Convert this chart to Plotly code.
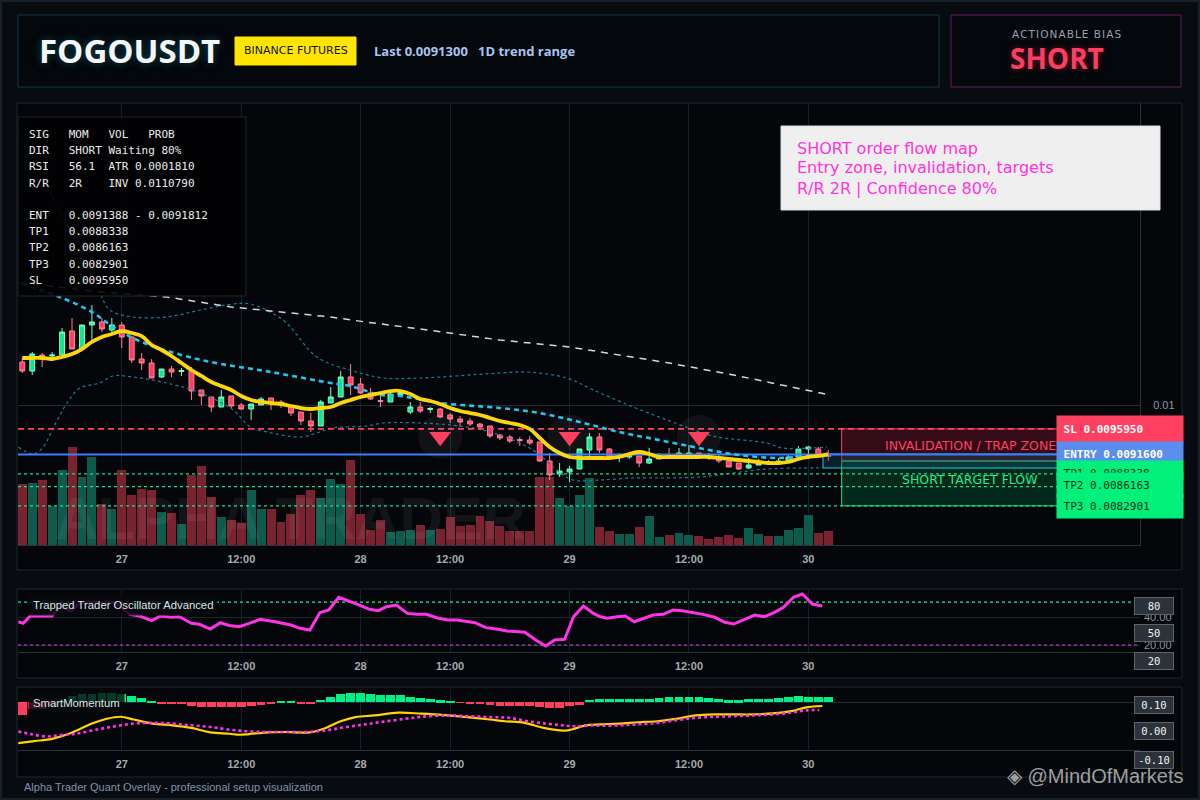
import plotly.graph_objects as go

# ---- candles (1h bars, index 0..81) ----
opens = [0.010729, 0.010576, 0.010847, 0.010831, 0.010847, 0.011254, 0.010949, 0.011356, 0.011407, 0.011271,
         0.011356, 0.011153, 0.010780, 0.010712, 0.010475, 0.010610, 0.010568, 0.010576, 0.010254, 0.010136,
         0.009966, 0.010153, 0.010000, 0.009932, 0.010000, 0.010119, 0.010051, 0.009983, 0.009881, 0.009729,
         0.009644, 0.010034, 0.010136, 0.010475, 0.010356, 0.010203, 0.010076, 0.010051, 0.010169, 0.009881,
         0.009966, 0.009924, 0.009932, 0.009831, 0.009763, 0.009729, 0.009678, 0.009644, 0.009492, 0.009458,
         0.009415, 0.009407, 0.009373, 0.009051, 0.008831, 0.008864, 0.008915, 0.009237, 0.009458, 0.009254,
         0.009110, 0.009119, 0.009136, 0.009017, 0.009085, 0.009153, 0.009136, 0.009136, 0.009186, 0.009127,
         0.009119, 0.009051, 0.009017, 0.008932, 0.008983, 0.009042, 0.009017, 0.009051, 0.009119, 0.009254,
         0.009254, 0.009153]
highs = [0.010797, 0.010898, 0.010881, 0.010898, 0.011305, 0.011475, 0.011356, 0.011695, 0.011475, 0.011475,
         0.011407, 0.011153, 0.010881, 0.010780, 0.010610, 0.010661, 0.010627, 0.010644, 0.010254, 0.010136,
         0.010254, 0.010153, 0.010034, 0.010017, 0.010136, 0.010119, 0.010085, 0.009983, 0.009881, 0.009864,
         0.010085, 0.010305, 0.010576, 0.010695, 0.010458, 0.010288, 0.010169, 0.010203, 0.010220, 0.010051,
         0.010051, 0.009966, 0.009949, 0.009864, 0.009814, 0.009780, 0.009695, 0.009644, 0.009508, 0.009492,
         0.009458, 0.009475, 0.009373, 0.009186, 0.009017, 0.008966, 0.009254, 0.009525, 0.009525, 0.009271,
         0.009186, 0.009186, 0.009136, 0.009271, 0.009186, 0.009271, 0.009271, 0.009322, 0.009186, 0.009186,
         0.009153, 0.009085, 0.009017, 0.009102, 0.009085, 0.009068, 0.009102, 0.009153, 0.009305, 0.009305,
         0.009288, 0.009237]
lows = [0.010542, 0.010508, 0.010644, 0.010763, 0.010847, 0.010949, 0.010949, 0.011102, 0.011237, 0.011237,
        0.010966, 0.010712, 0.010593, 0.010458, 0.010458, 0.010475, 0.010492, 0.010085, 0.010000, 0.009881,
        0.009966, 0.009949, 0.009915, 0.009746, 0.010000, 0.009915, 0.009949, 0.009814, 0.009661, 0.009542,
        0.009644, 0.010034, 0.010136, 0.010169, 0.010186, 0.010085, 0.009966, 0.010051, 0.010136, 0.009847,
        0.009864, 0.009864, 0.009780, 0.009695, 0.009627, 0.009644, 0.009610, 0.009441, 0.009407, 0.009356,
        0.009305, 0.009322, 0.009034, 0.008729, 0.008780, 0.008695, 0.008915, 0.009068, 0.009186, 0.009085,
        0.009034, 0.009085, 0.008949, 0.009000, 0.009085, 0.009102, 0.009119, 0.009136, 0.009085, 0.009068,
        0.009017, 0.008949, 0.008898, 0.008915, 0.008983, 0.009017, 0.009017, 0.009034, 0.009119, 0.009085,
        0.009136, 0.009051]
closes = [0.010576, 0.010864, 0.010831, 0.010847, 0.011237, 0.010949, 0.011356, 0.011407, 0.011288, 0.011356,
          0.011153, 0.010763, 0.010712, 0.010458, 0.010610, 0.010559, 0.010585, 0.010237, 0.010153, 0.009966,
          0.010136, 0.009983, 0.009932, 0.010017, 0.010102, 0.010034, 0.010000, 0.009864, 0.009729, 0.009644,
          0.010051, 0.010136, 0.010475, 0.010339, 0.010203, 0.010102, 0.010059, 0.010186, 0.010203, 0.009966,
          0.009898, 0.009941, 0.009797, 0.009763, 0.009712, 0.009678, 0.009627, 0.009475, 0.009441, 0.009390,
          0.009398, 0.009356, 0.009051, 0.008814, 0.008881, 0.008915, 0.009254, 0.009458, 0.009237, 0.009119,
          0.009127, 0.009153, 0.009017, 0.009085, 0.009153, 0.009119, 0.009186, 0.009186, 0.009119, 0.009110,
          0.009051, 0.008949, 0.008915, 0.008983, 0.009017, 0.009025, 0.009051, 0.009119, 0.009254, 0.009288,
          0.009153, 0.009130]
volume = [61, 62, 65, 39, 75, 98, 68, 88, 41, 36, 75, 50, 56, 55, 33, 32, 21, 70, 79, 48,
          28, 25, 22, 55, 36, 36, 23, 31, 50, 55, 47, 66, 61, 85, 31, 15, 25, 13, 14, 15,
          20, 15, 16, 28, 19, 20, 29, 24, 19, 14, 14, 14, 68, 68, 47, 39, 50, 67, 18, 14,
          11, 11, 18, 29, 8, 10, 12, 10, 9, 6, 8, 10, 7, 17, 11, 9, 9, 15, 17, 30, 12, 14]
fast_ma = [0.010797, 0.010797, 0.010797, 0.010780, 0.010814, 0.010864, 0.010949, 0.011068, 0.011153, 0.011203,
           0.011254, 0.011220, 0.011169, 0.011017, 0.010932, 0.010831, 0.010712, 0.010593, 0.010492, 0.010390,
           0.010322, 0.010254, 0.010153, 0.010085, 0.010051, 0.010034, 0.010017, 0.009983, 0.009949, 0.009932,
           0.009949, 0.009966, 0.010034, 0.010085, 0.010136, 0.010169, 0.010203, 0.010237, 0.010237, 0.010186,
           0.010102, 0.010068, 0.010017, 0.009949, 0.009898, 0.009864, 0.009831, 0.009780, 0.009729, 0.009695,
           0.009661, 0.009593, 0.009441, 0.009288, 0.009186, 0.009119, 0.009102, 0.009102, 0.009102, 0.009102,
           0.009119, 0.009169, 0.009203, 0.009169, 0.009119, 0.009119, 0.009119, 0.009119, 0.009119, 0.009119,
           0.009102, 0.009085, 0.009068, 0.009051, 0.009034, 0.009017, 0.009017, 0.009034, 0.009085, 0.009119,
           0.009136, 0.009169]

mid_x = [0, 4, 7, 9, 12, 18, 25, 31, 33, 36, 38, 42, 48, 52, 56, 60, 64, 68, 72, 76, 80]
mid_y = [0.012051, 0.011814, 0.011576, 0.011339, 0.011068, 0.010763, 0.010559, 0.010373, 0.010322, 0.010169,
         0.010153, 0.010034, 0.009949, 0.009864, 0.009712, 0.009542, 0.009407, 0.009271, 0.009153, 0.009102, 0.009153]
slow_x = [-0.2, 8, 14.5, 21, 31, 34.5, 40, 48, 55, 65, 71.5, 80.7]
slow_y = [0.012068, 0.011915, 0.011831, 0.011661, 0.011492, 0.011407, 0.011288, 0.011102, 0.010983, 0.010712,
          0.010508, 0.010186]
up_x = [-0.4, 2.8, 5.8, 7.8, 8.8, 11.1, 14.5, 17.9, 21.2, 22.9, 26.2, 29.6, 32.9, 36.3, 40, 48, 50.7, 54.7,
        57.4, 61.4, 64.8, 68.1, 69.8, 74.8, 76.4, 80.9]
up_y = [0.014576, 0.013593, 0.012627, 0.011898, 0.011610, 0.011492, 0.011492, 0.011610, 0.011712, 0.011712,
        0.011441, 0.010814, 0.010593, 0.010458, 0.010458, 0.010542, 0.010559, 0.010458, 0.010254, 0.009966,
        0.009746, 0.009542, 0.009458, 0.009356, 0.009271, 0.009288]
lo_x = [-0.4, 1.1, 2.1, 3.1, 4.5, 5.8, 7.8, 9.1, 11.1, 14.5, 17.9, 21.2, 22.9, 24.6, 27.9, 29.6, 31.2, 34.6,
        36.3, 40, 44.7, 48, 51.3, 54, 55.3, 58.1, 61.4, 64.8, 68.1, 71.4, 74.8, 78.2, 80.9]
lo_y = [0.009288, 0.009169, 0.009288, 0.009610, 0.010034, 0.010288, 0.010373, 0.010492, 0.010475, 0.010373,
        0.010203, 0.009915, 0.009627, 0.009542, 0.009458, 0.009525, 0.009610, 0.009644, 0.009695, 0.009695,
        0.009627, 0.009492, 0.009237, 0.008864, 0.008729, 0.008729, 0.008763, 0.008763, 0.008780, 0.008847,
        0.008915, 0.008932, 0.008932]

signal_idx = [42, 55, 68]
signal_price = 0.00946

sl_level = 0.0095950
entry_level = 0.0091600
tp_levels = [0.0088338, 0.0086163, 0.0082901]
zone_split = 0.009051
entry_box = [0.008932, 0.009169]

tick_idx = [10, 22, 34, 43, 55, 67, 79]
tick_txt = ["27", "12:00", "28", "12:00", "29", "12:00", "30"]

# ---- Trapped Trader Oscillator ----
osc_x = [-0.4, 0.1, 0.8, 3, 3.7, 4.9, 5.8, 7, 8.1, 9.3, 10.8, 11.8, 13, 13.9, 14.9, 15.8, 17, 17.8, 18.9, 19.9,
         20.8, 21.8, 22.8, 23.9, 25.4, 27, 27.9, 28.9, 29.9, 30.8, 31.8, 32.8, 33.7, 34.9, 35.8, 36.6, 37.6, 38.7,
         39.7, 40.6, 41.8, 42.8, 43.7, 45.5, 46.6, 47.8, 48.7, 50.5, 51.6, 52.6, 53.5, 54.5, 55.4, 56.4, 57.4,
         58.1, 58.8, 59.8, 60.6, 61.5, 62.5, 63.4, 64.4, 65.4, 66.3, 67.3, 68.4, 69.6, 70.6, 71.5, 72.5, 73.6,
         74.6, 75.6, 76.5, 77.5, 78.4, 79.4, 80.4]
osc_v = [36.6, 35.5, 40.7, 40.7, 47.4, 44.5, 50.2, 50.5, 50.2, 50.5, 41.9, 40.7, 37.4, 40.7, 39.8, 40.2, 35.5,
         34.8, 31.4, 35.9, 34.0, 33.1, 35.5, 38.3, 36.6, 34.3, 31.9, 30.7, 43.1, 45.0, 54.1, 51.6, 49.1, 45.5,
         44.5, 47.4, 48.6, 42.6, 41.9, 41.9, 39.1, 37.9, 37.9, 35.9, 32.4, 31.2, 30.0, 29.1, 23.6, 19.3, 23.6,
         24.1, 40.2, 47.9, 42.6, 40.2, 39.1, 40.2, 40.7, 36.6, 39.1, 41.4, 41.9, 45.0, 44.5, 43.3, 41.9, 39.8,
         36.2, 35.0, 38.3, 41.4, 40.2, 43.3, 46.9, 54.1, 56.4, 49.3, 47.9]
osc_upper = 50.7
osc_lower = 20

# ---- SmartMomentum ----
mom_hist = [-12.3, -7, -6.7, -4, 1, 6, 7.7, 8.3, 9.3, 9.3, 8.3, 6, 3.7, 1, -1.3, -1.3, -2, -3.3, -4.7, -5,
            -5, -4.3, -4.3, -3.3, -2.3, -1.3, 1, 0.7, -1, -1.3, 2, 5.3, 8, 8.7, 8.7, 7.7, 6.7, 6.7, 6.7, 5.3,
            3.7, 2.7, 1.7, 1, -0.7, -1.3, -2, -3, -3.3, -3.3, -3.3, -4, -5, -6, -6, -4, -3, 2, 2.7, 2.7,
            2.7, 2.7, 2.7, 3.3, 3.7, 5, 5, 5, 5, 4, 2.7, 1.7, 1.7, 2.7, 2.7, 3.3, 4, 5, 5.7, 5, 5, 5]
mom_x = [-0.4, 1.2, 3, 4.9, 7, 8.5, 9.9, 11.2, 13.1, 15.1, 17, 18.9, 20.8, 21.8, 22.8, 24.7, 26.6, 28.9, 30.5,
         32, 33.5, 35.4, 37.8, 40.1, 42.4, 44.7, 47, 48.5, 50.5, 52.4, 54.5, 55.4, 56.6, 58.1, 60, 61.9, 63.8,
         65.7, 67.7, 69.6, 71.5, 73.4, 75.4, 77.3, 78.8, 80.4]
mom_v = [-40.3, -38.3, -36, -30.3, -21, -16.3, -14.3, -17, -21, -22.7, -25.3, -29.7, -31, -32, -31.3, -29.7,
         -29.3, -29.7, -25.3, -18.7, -14.7, -13, -10.3, -11.3, -12.7, -14.7, -17, -18.7, -20.3, -25.3, -28,
         -26.3, -22.7, -21.8, -21, -19.7, -18.7, -16.3, -13, -12, -12, -12, -11, -8.7, -5, -3.7]
sig_x = [-0.4, 0.8, 2.4, 3.9, 5.4, 7.4, 9.3, 11.2, 13.1, 15.1, 17, 18.9, 20.8, 22.8, 24.7, 26.6, 28.5, 30.5,
         32.4, 34.3, 36.2, 38.5, 40.1, 42.4, 44.7, 47, 48.9, 50.8, 52.8, 54.3, 55.4, 57.4, 58.1, 60, 61.9, 63.8,
         65.7, 67.7, 69.6, 71.5, 73.4, 75.4, 77.3, 78.8, 80.1]
sig_v = [-28.7, -31.3, -33.7, -32.3, -31, -27, -23.7, -21, -20.3, -21, -22.7, -24.3, -27, -28.7, -29.3, -29.3,
         -29.3, -27.7, -24.7, -22, -19.3, -16.3, -14.3, -13, -13.7, -14.7, -15.3, -18.7, -21.3, -22.7, -23.7,
         -22.7, -23.2, -22.7, -21.7, -20.3, -17.7, -15.3, -14.3, -13.7, -13, -12, -10.3, -8, -7.7]

info_rows = ["SIG   MOM   VOL   PROB",
             "DIR   SHORT Waiting 80%",
             "RSI   56.1  ATR 0.0001810",
             "R/R   2R    INV 0.0110790",
             "ENT   0.0091388 - 0.0091812",
             "TP1   0.0088338",
             "TP2   0.0086163",
             "TP3   0.0082901",
             "SL    0.0095950"]
note_rows = ["SHORT order flow map", "Entry zone, invalidation, targets", "R/R 2R | Confidence 80%"]

W, H = 1200, 800


def px(x):
    return x / W


def py(y):
    return 1 - y / H


idx = list(range(len(opens)))
X_RANGE = [-0.43, 112.33]
GRID = "#10212b"
TICKFONT = dict(family="Liberation Sans", size=11, color="#a3abb3", weight="bold")
MONO = "DejaVu Sans Mono"

fig = go.Figure()

# volume on base axis
vol_col = ["#0c5b4c" if c >= o else "#7b2230" for o, c in zip(opens, closes)]
fig.add_bar(x=idx, y=volume, marker_color=vol_col, marker_line_width=0, width=0.9,
            xaxis="x", yaxis="y")


def zone(x0, x1, y0, y1, fill, line):
    fig.add_scatter(x=[x0, x1, x1, x0, x0], y=[y0, y0, y1, y1, y0], mode="lines", fill="toself",
                    fillcolor=fill, line=dict(color=line, width=1), xaxis="x", yaxis="y2")


zone(82.35, 106, zone_split, sl_level, "rgba(110,18,38,0.45)", "#ff4060")
zone(82.35, 106, tp_levels[2], zone_split, "rgba(0,110,64,0.35)", "#20e080")
zone(80.47, 106, entry_box[0], entry_box[1], "rgba(18,84,104,0.35)", "#22c8e8")

# bands
for bx, by in [(up_x, up_y), (lo_x, lo_y)]:
    fig.add_scatter(x=bx, y=by, mode="lines", line=dict(color="#1d7d97", width=1.2, dash="dot", shape="spline"),
                    xaxis="x", yaxis="y2")

# level lines
fig.add_scatter(x=[X_RANGE[0], 106], y=[sl_level] * 2, mode="lines",
                line=dict(color="#ff4060", width=1.6, dash="6px,4px"), xaxis="x", yaxis="y2")
for tp in tp_levels:
    fig.add_scatter(x=[X_RANGE[0], 106], y=[tp] * 2, mode="lines",
                    line=dict(color="#1ee07a", width=1.3, dash="dot"), xaxis="x", yaxis="y2")
fig.add_scatter(x=[X_RANGE[0], 106], y=[entry_level] * 2, mode="lines",
                line=dict(color="#3b7dff", width=2), xaxis="x", yaxis="y2")

fig.add_scatter(x=slow_x, y=slow_y, mode="lines", line=dict(color="#d4d8dc", width=1.5, dash="7px,6px"),
                xaxis="x", yaxis="y2")
fig.add_scatter(x=mid_x, y=mid_y, mode="lines", line=dict(color="#1fc6ee", width=2.6, dash="5px,4px", shape="spline"),
                xaxis="x", yaxis="y2")

fig.add_candlestick(x=idx, open=opens, high=highs, low=lows, close=closes,
                    increasing=dict(fillcolor="#14e48a", line=dict(color="#7dffc6", width=1)),
                    decreasing=dict(fillcolor="#ff3f62", line=dict(color="#ff8096", width=1)),
                    whiskerwidth=0, xaxis="x", yaxis="y2")

fig.add_scatter(x=idx, y=fast_ma, mode="lines", line=dict(color="#ffd60a", width=3.8, shape="spline"),
                xaxis="x", yaxis="y2")

fig.add_scatter(x=signal_idx, y=[signal_price] * len(signal_idx), mode="markers",
                marker=dict(size=44, color="rgba(220,220,220,0.06)"), xaxis="x", yaxis="y2")
fig.add_scatter(x=signal_idx, y=[signal_price] * len(signal_idx), mode="markers",
                marker=dict(symbol="triangle-down", size=19, color="#ff3f5f", line_width=0), xaxis="x", yaxis="y2")

# oscillator panel
for lvl, col in [(osc_upper, "#22ee88"), (osc_lower, "#e040e0")]:
    fig.add_scatter(x=X_RANGE, y=[lvl, lvl], mode="lines", line=dict(color=col, width=1.2, dash="dot"),
                    xaxis="x2", yaxis="y3")
fig.add_scatter(x=osc_x, y=osc_v, mode="lines", line=dict(color="#ff33e6", width=3), xaxis="x2", yaxis="y3")

# momentum panel
fig.add_bar(x=idx, y=mom_hist, marker_color=["#00f088" if v >= 0 else "#ff3d5d" for v in mom_hist],
            marker_line_width=0, width=0.88, xaxis="x3", yaxis="y4")
fig.add_scatter(x=mom_x, y=mom_v, mode="lines", line=dict(color="#ffd400", width=2.2, shape="spline"),
                xaxis="x3", yaxis="y4")
fig.add_scatter(x=sig_x, y=sig_v, mode="lines", line=dict(color="#ff33ee", width=2.6, dash="dot", shape="spline"),
                xaxis="x3", yaxis="y4")


def xax(anchor):
    return dict(domain=[px(18), px(1140)], range=X_RANGE, anchor=anchor, tickvals=tick_idx, ticktext=tick_txt,
                showgrid=True, gridcolor=GRID, zeroline=False, showline=True, linecolor="#27323c",
                ticks="", tickfont=TICKFONT, ticklabelstandoff=4, fixedrange=True)


shapes = []


def box(x0, y0, x1, y1, fill, line, layer="below", w=1):
    shapes.append(dict(type="rect", xref="paper", yref="paper", x0=px(x0), x1=px(x1), y0=py(y1), y1=py(y0),
                       fillcolor=fill, line=dict(color=line, width=w), layer=layer))


box(1, 1, 1199, 799, "rgba(0,0,0,0)", "#17212a", w=2)
box(18, 15, 939, 87, "#04070b", "#0f3b49")
box(951, 15, 1181, 87, "#04070b", "#6a1c5e")
box(235, 37, 356, 65, "#ffe500", "#ffe500")
box(17, 103, 1182, 570, "#04060a", "#1a2631")
box(17, 589, 1182, 678, "#04060a", "#1a2631")
box(17, 687, 1182, 777, "#04060a", "#1a2631")
box(18, 117, 246, 296, "rgba(2,2,3,0.9)", "#1f252b", layer="above")
box(781, 126, 1160, 210, "#efefef", "#dcdcdc", layer="above")

ann = []


def text(x, y, s, size, color, family="DejaVu Sans", anchor="left", **kw):
    ann.append(dict(xref="paper", yref="paper", x=px(x), y=py(y), text=s, showarrow=False, xanchor=anchor,
                    yanchor="middle", font=dict(family=family, size=size, color=color, **kw.pop("font", {})), **kw))


text(37, 51, "<b>FOGOUSDT</b>", 33, "#f4f6f8", family="Open Sans", font=dict(shadow="0px 0px 8px #0a4655"))
text(295.5, 51, "BINANCE FUTURES", 11, "#111111", anchor="center")
text(372, 51, "<b>Last 0.0091300\u00a0\u00a0\u00a01D trend range</b>", 13, "#a9c4f2", family="Open Sans")
text(1066, 34, "\u200a".join("ACTIONABLE BIAS"), 10.5, "#9aa1a8", anchor="center")
text(1057, 58, "<b>SHORT</b>", 28, "#ff3d63", family="Open Sans", anchor="center",
     font=dict(shadow="0px 0px 6px #6a1020"))

row_y = [134, 150, 166, 183, 215, 231, 247, 264, 280]
for ry, row in zip(row_y, info_rows):
    text(27, ry, row.replace(" ", "\u00a0"), 11, "#ececec", family=MONO)
for i, row in enumerate(note_rows):
    text(795, 148 + 20 * i, row, 16, "#ff33dd")

text(290, 518, "<b>ALPHA TRADER</b>", 60, "rgba(255,255,255,0.06)", family="Liberation Sans", anchor="center")
text(970, 445, "INVALIDATION / TRAP ZONE", 12.5, "#ff4060", anchor="center")
text(970, 479, "SHORT TARGET FLOW", 12.5, "#1ff08a", anchor="center")


def label(y, h, s, bg, color, bold=True, valign="middle"):
    ann.append(dict(xref="paper", yref="paper", x=px(1056), y=py(y), xanchor="left", yanchor="middle",
                    text=("<b>%s</b>" % s) if bold else s, showarrow=False, width=126, height=h, borderpad=0,
                    align="left", valign=valign, bgcolor=bg, font=dict(family=MONO, size=11, color=color)))


label(429, 26, "\u00a0SL 0.0095950", "#ff4060", "#ffffff")
label(451.5, 19, "\u00a0ENTRY 0.0091600", "#5b8def", "#ffffff", valign="bottom")
label(470.5, 19, "\u00a0TP1 0.0088338", "#00f07a", "#06301a", bold=False, valign="bottom")
label(485, 24, "\u00a0TP2 0.0086163", "#00f07a", "#06301a", bold=False)
label(506.5, 23, "\u00a0TP3 0.0082901", "#00f07a", "#06301a", bold=False)

for yy, s in [(606, "80"), (633, "50"), (661, "20"), (704.5, "0.10"), (731, "0.00"), (759.5, "-0.10")]:
    ann.append(dict(xref="paper", yref="paper", x=px(1154), y=py(yy), xanchor="center", yanchor="middle",
                    text=s, showarrow=False, width=38, height=16, borderpad=0, bgcolor="#2b323a",
                    bordercolor="#5b646e", borderwidth=1, font=dict(family=MONO, size=10.5, color="#f2f2f2")))

text(28, 605, "Trapped Trader Oscillator Advanced", 11.3, "#dfe3e8", family="Liberation Sans",
     bgcolor="rgba(8,10,13,0.85)", borderpad=4)
text(28, 703, "SmartMomentum", 11.3, "#dfe3e8", family="Liberation Sans",
     bgcolor="rgba(8,10,13,0.8)", borderpad=4)
text(22, 787, "Alpha Trader Quant Overlay - professional setup visualization", 11, "#7f94aa",
     family="Liberation Sans")
text(1005, 776, "\u25c8 @MindOfMarkets", 20, "rgba(225,225,225,0.7)", family="Liberation Sans")

fig.update_layout(
    width=W, height=H, margin=dict(l=0, r=0, t=0, b=0), autosize=False,
    paper_bgcolor="#080b10", plot_bgcolor="rgba(0,0,0,0)", showlegend=False, hovermode=False,
    bargap=0, barmode="overlay",
    xaxis=dict(xax("y"), rangeslider=dict(visible=False)),
    yaxis=dict(domain=[py(545), py(103)], range=[0, 442], visible=False, fixedrange=True),
    yaxis2=dict(overlaying="y", anchor="x", side="right", range=[0.007627, 0.015119], tickvals=[0.01],
                ticktext=["0.01"], showgrid=True, gridcolor="#262b31", zeroline=False, showline=True,
                linecolor="#27323c", ticks="", tickfont=dict(family="Liberation Sans", size=11, color="#8e98a2"),
                ticklabelstandoff=10, fixedrange=True),
    xaxis2=xax("y3"),
    yaxis3=dict(domain=[py(652), py(590)], anchor="x2", side="right", range=[15, 59.3], tickvals=[20, 40],
                ticktext=["20.00", "40.00"], showgrid=True, gridcolor="#1c2630", zeroline=False, ticks="",
                tickfont=dict(family="Liberation Sans", size=11, color="#8d949b"), ticklabelstandoff=3,
                fixedrange=True),
    xaxis3=xax("y4"),
    yaxis4=dict(domain=[py(750), py(689)], anchor="x3", side="right", range=[-47, 13], tickvals=[0],
                showticklabels=False, showgrid=True, gridcolor="#252c34", zeroline=False, fixedrange=True),
    shapes=shapes, annotations=ann,
)

fig.write_html("out.html", config={"displayModeBar": False},
               post_script="document.body.style.margin='0';document.body.style.overflow='hidden';")
